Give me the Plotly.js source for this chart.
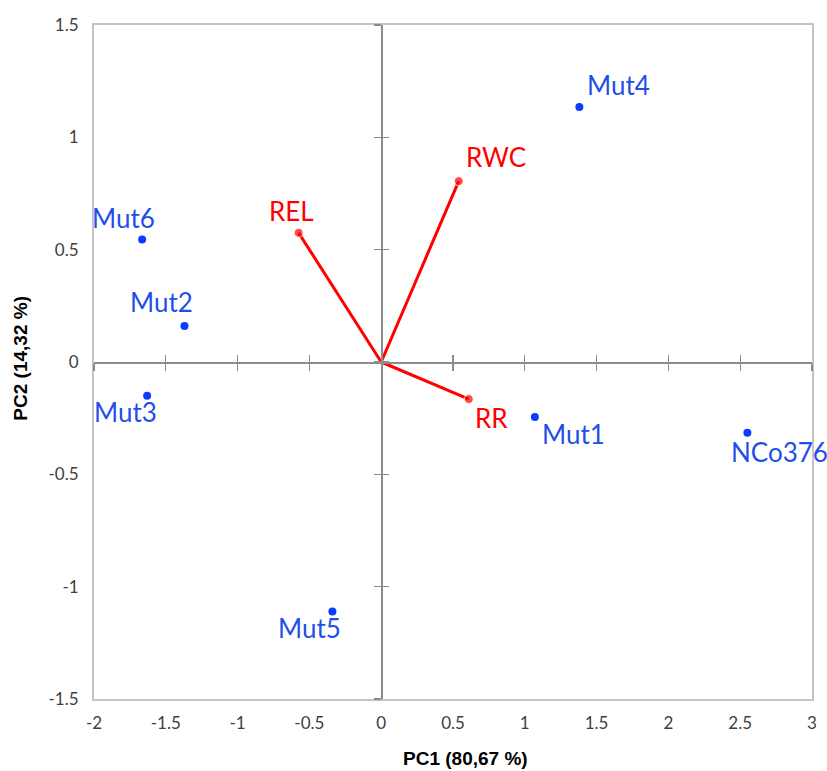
<!DOCTYPE html>
<html>
<head>
<meta charset="utf-8">
<script src="https://cdn.plot.ly/plotly-3.0.1.min.js"></script>
<style>html,body{margin:0;padding:0;background:#fff}#chart{width:827px;height:771px}</style>
</head>
<body>
<div id="chart"></div>
<script>
// Observations (scores)
var obsNames = ['Mut1', 'Mut2', 'Mut3', 'Mut4', 'Mut5', 'Mut6', 'NCo376'];
var obsPC1 = [1.07, -1.37, -1.63, 1.38, -0.34, -1.665, 2.55];
var obsPC2 = [-0.245, 0.16, -0.15, 1.135, -1.11, 0.545, -0.315];
// Variables (loadings)
var varNames = ['REL', 'RWC', 'RR'];
var varPC1 = [-0.575, 0.54, 0.61];
var varPC2 = [0.575, 0.805, -0.165];
// Tick values
var tickX = [-2, -1.5, -1, -0.5, 0, 0.5, 1, 1.5, 2, 2.5, 3];
var tickY = [-1.5, -1, -0.5, 0, 0.5, 1, 1.5];
var xTitle = 'PC1 (80,67 %)';
var yTitle = 'PC2 (14,32 %)';

// label offsets in pixels (style only)
var obsOffsets = {Mut1:[39,-17], Mut2:[-23,24], Mut3:[-22,-16], Mut4:[39,22], Mut5:[-23,-17], Mut6:[-19,22], NCo376:[32,-19]};
var varOffsets = {REL:[-7,22], RWC:[37,24], RR:[23,-19]};

var blue = '#0a3cff', blueText = '#1f4fe8', red = '#ff0000';

var vx = [], vy = [], vs = [];
for (var i = 0; i < varNames.length; i++) {
  vx.push(0, varPC1[i], null);
  vy.push(0, varPC2[i], null);
  vs.push(0, 9, 0);
}

var traces = [
  {x: [], y: [], xaxis: 'x2', yaxis: 'y2', type: 'scatter', mode: 'markers', showlegend: false, hoverinfo: 'skip'},
  {x: [], y: [], xaxis: 'x3', yaxis: 'y3', type: 'scatter', mode: 'markers', showlegend: false, hoverinfo: 'skip'},
  {x: vx, y: vy, mode: 'lines+markers', type: 'scatter',
   line: {color: red, width: 3}, marker: {color: red, size: vs},
   hoverinfo: 'skip', cliponaxis: false, showlegend: false},
  {x: obsPC1, y: obsPC2, text: obsNames, mode: 'markers', type: 'scatter',
   marker: {color: blue, size: 8}, cliponaxis: false, showlegend: false}
];

var lblFont = 'Lato, sans-serif';
var annotations = [];
obsNames.forEach(function (n, i) {
  annotations.push({x: obsPC1[i], y: obsPC2[i], xref: 'x', yref: 'y', text: n, showarrow: false,
    xshift: obsOffsets[n][0], yshift: obsOffsets[n][1], xanchor: 'center', yanchor: 'middle',
    font: {family: lblFont, size: 26, color: blueText}});
});
varNames.forEach(function (n, i) {
  annotations.push({x: varPC1[i], y: varPC2[i], xref: 'x', yref: 'y', text: n, showarrow: false,
    xshift: varOffsets[n][0], yshift: varOffsets[n][1], xanchor: 'center', yanchor: 'middle',
    font: {family: lblFont, size: 26, color: red}});
});
var titleFont = {family: 'Liberation Sans, Arial, sans-serif', size: 19, color: '#000', weight: 'bold'};
annotations.push({xref: 'paper', yref: 'paper', x: 0.518, y: 0, yshift: -59, text: '<b>' + xTitle + '</b>',
  showarrow: false, xanchor: 'center', yanchor: 'middle', font: titleFont});
annotations.push({xref: 'paper', yref: 'paper', x: 0, xshift: -73, y: 0.505, text: '<b>' + yTitle + '</b>', textangle: -90,
  showarrow: false, xanchor: 'center', yanchor: 'middle', font: titleFont});

var xr = [-2, 3], yr = [-1.5, 1.5];
var x0frac = (0 - xr[0]) / (xr[1] - xr[0]);
var y0frac = (0 - yr[0]) / (yr[1] - yr[0]);
var tickFont = {family: 'Lato, sans-serif', size: 17, color: '#404040'};
var axisGray = '#8c8c8c';

var layout = {
  width: 827, height: 771,
  margin: {l: 94, r: 15, t: 25, b: 72},
  paper_bgcolor: '#fff', plot_bgcolor: '#fff',
  showlegend: false,
  xaxis: {range: xr, tickvals: tickX, ticktext: tickX.map(String), showgrid: false, zeroline: false,
    showline: true, mirror: true, linecolor: '#c4c4c4', linewidth: 2, ticks: '',
    tickfont: tickFont, ticklabelstandoff: 8},
  yaxis: {range: yr, tickvals: tickY, ticktext: tickY.map(String), showgrid: false, zeroline: false,
    showline: true, mirror: true, linecolor: '#c4c4c4', linewidth: 2, ticks: '',
    tickfont: tickFont, ticklabelstandoff: 10},
  xaxis2: {overlaying: 'x', anchor: 'free', position: y0frac, side: 'bottom', range: xr, tickvals: tickX,
    showticklabels: false, showgrid: false, zeroline: false, showline: true, linecolor: axisGray, linewidth: 1.5,
    ticks: 'outside', ticklen: 7, tickcolor: axisGray, tickwidth: 1.2},
  xaxis3: {overlaying: 'x', anchor: 'free', position: y0frac, side: 'bottom', range: xr, tickvals: tickX,
    showticklabels: false, showgrid: false, zeroline: false, showline: false,
    ticks: 'inside', ticklen: 7, tickcolor: axisGray, tickwidth: 1.2},
  yaxis2: {overlaying: 'y', anchor: 'free', position: x0frac, side: 'left', range: yr, tickvals: tickY,
    showticklabels: false, showgrid: false, zeroline: false, showline: true, linecolor: axisGray, linewidth: 1.5,
    ticks: 'outside', ticklen: 7, tickcolor: axisGray, tickwidth: 1.2},
  yaxis3: {overlaying: 'y', anchor: 'free', position: x0frac, side: 'left', range: yr, tickvals: tickY,
    showticklabels: false, showgrid: false, zeroline: false, showline: false,
    ticks: 'inside', ticklen: 7, tickcolor: axisGray, tickwidth: 1.2},
  annotations: annotations
};

Plotly.newPlot('chart', traces, layout, {displayModeBar: false, staticPlot: true});
</script>
</body>
</html>
